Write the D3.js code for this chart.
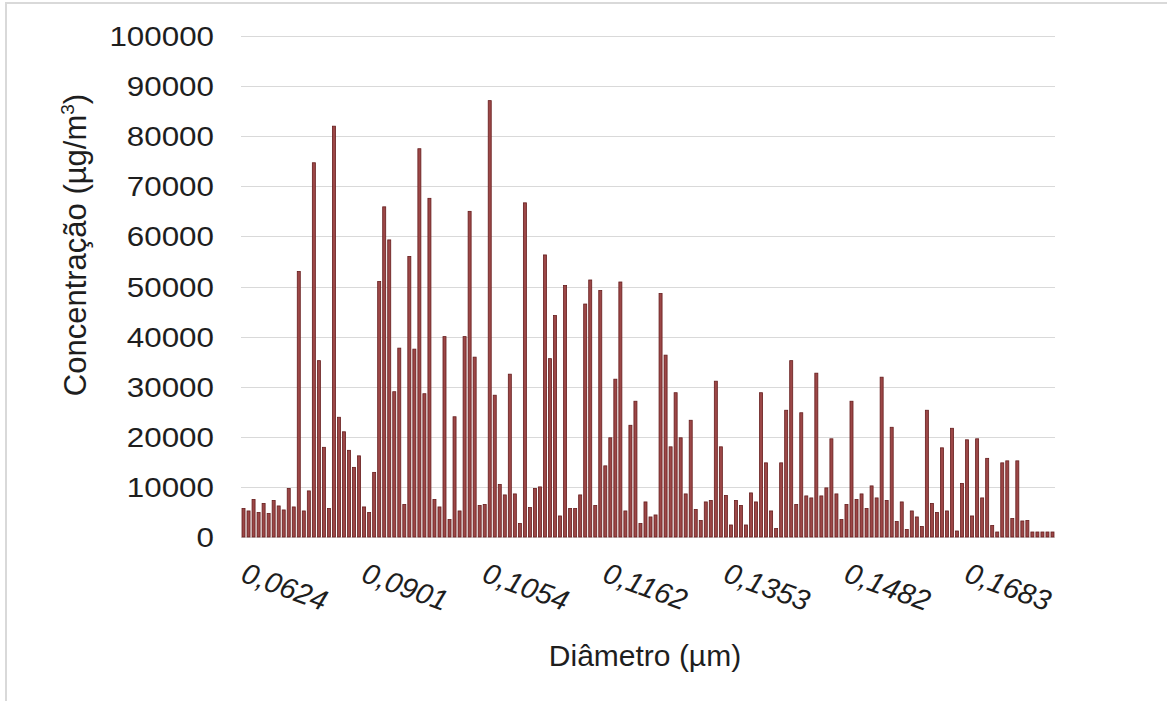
<!DOCTYPE html>
<html>
<head>
<meta charset="utf-8">
<script src="https://cdn.jsdelivr.net/npm/d3@7"></script>
<style>
  body { margin: 0; background: #fff; }
  svg { display: block; font-family: "Liberation Sans", Arial, sans-serif; }
</style>
</head>
<body>
<div class="chart"></div>
<script>
// concentration per size bin (µg/m3)
var values = [
  5700, 5200, 7500, 4900, 6700, 4700, 7300, 6200, 5400, 9700,
  6000, 53000, 5200, 9200, 74700, 35200, 17900, 5700, 82000, 23900,
  21000, 17300, 13900, 16200, 6000, 4900, 12900, 51000, 65900, 59300,
  29000, 37700, 6500, 56000, 37500, 77500, 28600, 67600, 7500, 6000,
  40000,
  3500, 24000, 5200, 40000, 65000, 35900, 6300, 6500, 87100, 28300,
  10500, 8400, 32500, 8600, 2700, 66700, 5900, 9700, 10000, 56300,
  35600, 44200, 4200, 50200, 5700, 5700, 8400, 46500, 51300, 6300,
  49200, 14200, 19800, 31500, 50900, 5200, 22300, 27100, 2700, 7000,
  4000, 4400, 48600, 36300, 18000, 28800, 19800, 8600, 23300, 5500,
  3300, 7000, 7300, 31100, 18000, 8300, 2400, 7300, 6300, 2400,
  8800, 7000, 28800, 14800, 5200, 1700, 14800, 25300, 35200, 6500,
  24800, 8200, 7800, 32700, 8200, 9800, 19600, 8600, 3500, 6500,
  27100, 7500, 8600, 5700, 10200, 7800, 31900, 7300, 21900, 3100,
  7000, 1500, 5200, 4000, 2100, 25300, 6700, 4900, 17800, 5200,
  21700, 1200, 10700, 19400, 4200, 19600, 7800, 15700, 2300, 1000,
  14800, 15200, 3700, 15200, 3200, 3300, 1000, 1000, 1000, 1000, 1000
];

// only every 24th diameter is labelled on the axis
var tickLabels = ['0,0624', '0,0901', '0,1054', '0,1162', '0,1353', '0,1482', '0,1683'];
var tickEvery = 24;

var yTicks = [0, 10000, 20000, 30000, 40000, 50000, 60000, 70000, 80000, 90000, 100000];

var width = 1167, height = 701;
var margin = { top: 36, right: 112, bottom: 164, left: 241 };

var svg = d3.select('.chart').append('svg')
    .attr('width', width)
    .attr('height', height);

// outer frame (only top and left edges show in the picture)
svg.append('path')
    .attr('d', 'M6,' + height + 'V3H' + width)
    .attr('fill', 'none')
    .attr('stroke', '#d9d9d9')
    .attr('stroke-width', 2);

var x = d3.scaleBand()
    .domain(d3.range(values.length))
    .range([margin.left, width - margin.right])
    .paddingInner(0.4)
    .paddingOuter(0.2);

var y = d3.scaleLinear()
    .domain([0, 100000])
    .range([height - margin.bottom, margin.top]);

// gridlines
svg.append('g')
  .selectAll('line')
    .data(yTicks)
  .enter().append('line')
    .attr('x1', margin.left)
    .attr('x2', width - margin.right)
    .attr('y1', function(d){ return Math.round(y(d)) + 0.5; })
    .attr('y2', function(d){ return Math.round(y(d)) + 0.5; })
    .attr('stroke', '#d9d9d9')
    .attr('stroke-width', 1);

// y labels (the original text is a bit wide, so stretch it)
svg.append('g')
  .selectAll('text')
    .data(yTicks)
  .enter().append('text')
    .attr('transform', function(d){
      return 'translate(' + (margin.left - 27) + ',' + y(d) + ') scale(1.12,1)';
    })
    .attr('dy', '0.36em')
    .attr('text-anchor', 'end')
    .attr('font-size', 28)
    .attr('fill', '#1e1e1e')
    .text(function(d){ return d; });

// bars
svg.append('g')
  .selectAll('rect')
    .data(values)
  .enter().append('rect')
    .attr('x', function(d, i){ return x(i); })
    .attr('width', x.bandwidth())
    .attr('y', function(d){ return y(d); })
    .attr('height', function(d){ return y(0) - y(d); })
    .attr('fill', '#9c4747')
    .attr('stroke', '#661d1d')
    .attr('stroke-width', 0.8);

// x tick labels, slanted
svg.append('g')
  .selectAll('text')
    .data(tickLabels)
  .enter().append('text')
    .attr('transform', function(d, i){
      var cx = x(i * tickEvery) + x.bandwidth() / 2;
      return 'translate(' + (cx - 4) + ',' + 581 + ') rotate(20)';
    })
    .attr('font-size', 29)
    .attr('font-style', 'italic')
    .attr('fill', '#1e1e1e')
    .text(function(d){ return d; });

// axis titles
svg.append('text')
    .attr('x', 645)
    .attr('y', 666)
    .attr('text-anchor', 'middle')
    .attr('font-size', 30)
    .attr('fill', '#1e1e1e')
    .text('Diâmetro (µm)');

var yTitle = svg.append('text')
    .attr('transform', 'translate(86,245) rotate(-90)')
    .attr('text-anchor', 'middle')
    .attr('font-size', 31)
    .attr('fill', '#1e1e1e');
yTitle.append('tspan').text('Concentração (µg/m');
yTitle.append('tspan').attr('font-size', 19).attr('dy', -12).text('3');
yTitle.append('tspan').attr('dy', 12).text(')');
</script>
</body>
</html>
